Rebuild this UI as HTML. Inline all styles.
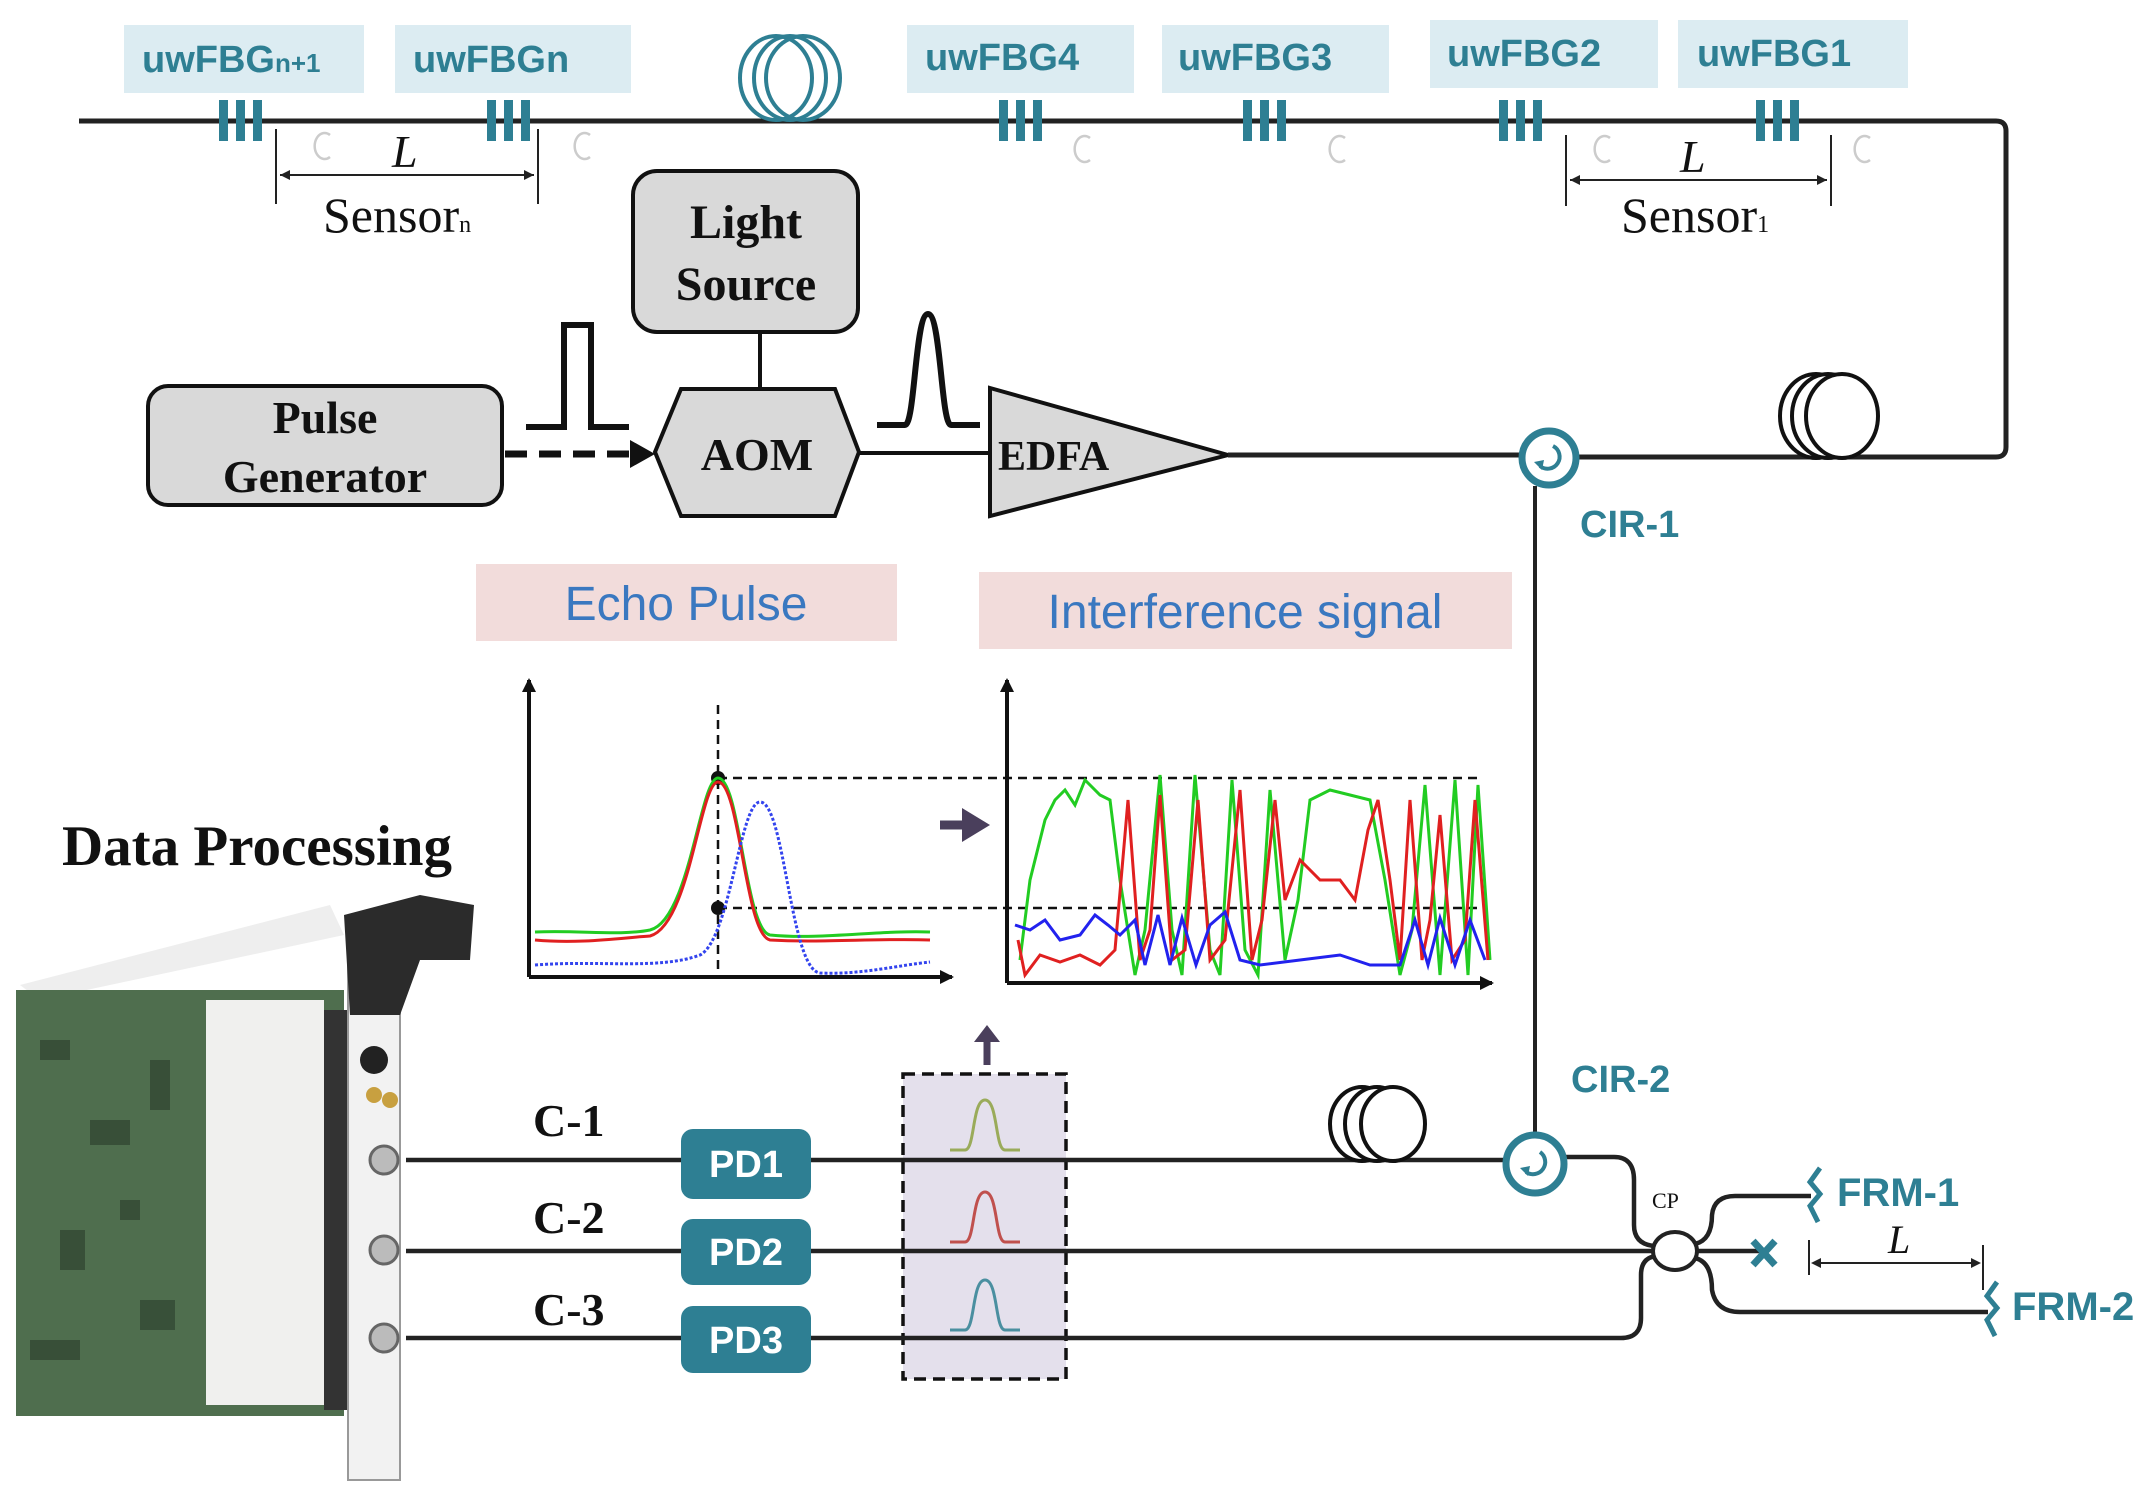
<!DOCTYPE html>
<html><head><meta charset="utf-8"><style>
html,body{margin:0;padding:0;background:#fff}
svg{display:block}
.tl{font-family:"Liberation Sans",sans-serif;font-weight:bold;fill:#2e7f93}
.sf{font-family:"Liberation Serif",serif;fill:#111}
</style></head><body>
<svg width="2156" height="1497" viewBox="0 0 2156 1497" xmlns="http://www.w3.org/2000/svg">
<defs>
<marker id="ah" markerWidth="8" markerHeight="8" refX="7" refY="4" orient="auto" markerUnits="userSpaceOnUse"><path d="M0,0 L8,4 L0,8z" fill="#111"/></marker>
<marker id="ah2" markerWidth="14" markerHeight="14" refX="12" refY="7" orient="auto" markerUnits="userSpaceOnUse"><path d="M0,0 L14,7 L0,14z" fill="#111"/></marker>
</defs>
<g fill="#dcecf2">
<rect x="124" y="25" width="240" height="68"/><rect x="395" y="25" width="236" height="68"/>
<rect x="907" y="25" width="227" height="68"/><rect x="1162" y="25" width="227" height="68"/>
<rect x="1430" y="20" width="228" height="68"/><rect x="1678" y="20" width="230" height="68"/>
</g>
<g class="tl" font-size="38">
<text x="142" y="72">uwFBG<tspan font-size="26">n+1</tspan></text>
<text x="413" y="72">uwFBGn</text>
<text x="925" y="70">uwFBG4</text>
<text x="1178" y="70">uwFBG3</text>
<text x="1447" y="66">uwFBG2</text>
<text x="1697" y="66">uwFBG1</text>
</g>
<path d="M79,121 H1996 Q2006,121 2006,131 V447 Q2006,457 1996,457 H1577" fill="none" stroke="#222" stroke-width="5"/>
<g fill="none" stroke="#2e7f93" stroke-width="4">
<ellipse cx="776" cy="78" rx="36" ry="42"/><ellipse cx="790" cy="78" rx="36" ry="42"/><ellipse cx="803" cy="78" rx="37" ry="42"/>
</g>
<g fill="#2e7f93">
<g transform="translate(241,0)"><rect x="-22" y="100" width="9" height="41"/><rect x="-5" y="100" width="9" height="41"/><rect x="12" y="100" width="9" height="41"/></g>
<g transform="translate(509,0)"><rect x="-22" y="100" width="9" height="41"/><rect x="-5" y="100" width="9" height="41"/><rect x="12" y="100" width="9" height="41"/></g>
<g transform="translate(1021,0)"><rect x="-22" y="100" width="9" height="41"/><rect x="-5" y="100" width="9" height="41"/><rect x="12" y="100" width="9" height="41"/></g>
<g transform="translate(1265,0)"><rect x="-22" y="100" width="9" height="41"/><rect x="-5" y="100" width="9" height="41"/><rect x="12" y="100" width="9" height="41"/></g>
<g transform="translate(1521,0)"><rect x="-22" y="100" width="9" height="41"/><rect x="-5" y="100" width="9" height="41"/><rect x="12" y="100" width="9" height="41"/></g>
<g transform="translate(1778,0)"><rect x="-22" y="100" width="9" height="41"/><rect x="-5" y="100" width="9" height="41"/><rect x="12" y="100" width="9" height="41"/></g>
</g>
<g fill="none" stroke="#ccc" stroke-width="2.5">
<path d="M330,135 a10,13 0 1,0 0,22"/><path d="M590,135 a10,13 0 1,0 0,22"/><path d="M1090,138 a10,13 0 1,0 0,22"/><path d="M1345,138 a10,13 0 1,0 0,22"/><path d="M1610,138 a10,13 0 1,0 0,22"/><path d="M1870,138 a10,13 0 1,0 0,22"/>
</g>
<g stroke="#222" stroke-width="2" fill="none">
<line x1="276" y1="129" x2="276" y2="204"/><line x1="538" y1="129" x2="538" y2="204"/>
<line x1="280" y1="175" x2="534" y2="175"/>
<line x1="1566" y1="135" x2="1566" y2="206"/><line x1="1831" y1="135" x2="1831" y2="206"/>
<line x1="1570" y1="180" x2="1827" y2="180"/>
</g>
<path d="M280,175 l10,-5 v10z M534,175 l-10,-5 v10z M1570,180 l10,-5 v10z M1827,180 l-10,-5 v10z" fill="#222"/>
<text class="sf" x="392" y="167" font-size="46" font-style="italic">L</text>
<text class="sf" x="1680" y="172" font-size="46" font-style="italic">L</text>
<text class="sf" x="323" y="232" font-size="50">Sensor<tspan font-size="24">n</tspan></text>
<text class="sf" x="1621" y="232" font-size="50">Sensor<tspan font-size="24">1</tspan></text>
<rect x="633" y="171" width="225" height="161" rx="24" fill="#d9d9d9" stroke="#111" stroke-width="4"/>
<text class="sf" x="746" y="238" font-size="48" font-weight="bold" text-anchor="middle">Light</text>
<text class="sf" x="746" y="300" font-size="48" font-weight="bold" text-anchor="middle">Source</text>
<line x1="760" y1="332" x2="760" y2="389" stroke="#111" stroke-width="4"/>
<rect x="148" y="386" width="354" height="119" rx="20" fill="#d9d9d9" stroke="#111" stroke-width="4"/>
<text class="sf" x="325" y="433" font-size="46" font-weight="bold" text-anchor="middle">Pulse</text>
<text class="sf" x="325" y="492" font-size="46" font-weight="bold" text-anchor="middle">Generator</text>
<line x1="505" y1="454" x2="635" y2="454" stroke="#111" stroke-width="7" stroke-dasharray="22,12"/>
<path d="M630,440 L655,454 L630,468z" fill="#111"/>
<path d="M681,389 H835 L859,452 L835,516 H681 L655,452z" fill="#d9d9d9" stroke="#111" stroke-width="4"/>
<text class="sf" x="757" y="470" font-size="46" font-weight="bold" text-anchor="middle">AOM</text>
<path d="M526,427 H564 V325 H591 V427 H629" fill="none" stroke="#111" stroke-width="6"/>
<path d="M877,425 H905 C915,425 915,314 928,314 C941,314 941,425 951,425 H980" fill="none" stroke="#111" stroke-width="6"/>
<line x1="859" y1="453" x2="990" y2="453" stroke="#111" stroke-width="4"/>
<path d="M990,388 L1228,455 L990,516z" fill="#d9d9d9" stroke="#111" stroke-width="4"/>
<text class="sf" x="998" y="470" font-size="42" font-weight="bold">EDFA</text>
<line x1="1228" y1="455" x2="1521" y2="455" stroke="#222" stroke-width="5"/>
<g fill="#fff" stroke="#111" stroke-width="4">
<ellipse cx="1816" cy="416" rx="36" ry="42"/><ellipse cx="1828" cy="416" rx="36" ry="42"/><ellipse cx="1842" cy="416" rx="36" ry="42"/>
</g>
<line x1="1535" y1="486" x2="1535" y2="1134" stroke="#222" stroke-width="4"/>
<!-- CIR-1 -->
<circle cx="1549" cy="458" r="27" fill="#fff" stroke="#2e7f93" stroke-width="7"/>
<path d="M1553,446 A12,12 0 1,1 1540,466" fill="none" stroke="#2e7f93" stroke-width="4"/>
<path d="M1534,462 l8,8 l2,-10z" fill="#2e7f93"/>
<text class="tl" x="1580" y="537" font-size="38">CIR-1</text>
<!-- dashed box -->
<rect x="903" y="1074" width="163" height="305" fill="#e4e0ec" stroke="#111" stroke-width="3.5" stroke-dasharray="12,7"/>
<g fill="none" stroke="#222" stroke-width="4.5">
<path d="M406,1160 H1505"/>
<path d="M1566,1157 H1614 Q1634,1157 1634,1180 V1225 Q1634,1244 1654,1246"/>
<path d="M406,1251 H1763"/>
<path d="M406,1338 H1621 Q1641,1338 1641,1318 V1275 Q1641,1258 1656,1256"/>
<path d="M1695,1244 Q1712,1240 1712,1215 Q1714,1196 1735,1196 H1811"/>
<path d="M1695,1258 Q1712,1262 1712,1290 Q1716,1312 1740,1312 H1988"/>
</g>
<ellipse cx="1675" cy="1251" rx="22" ry="19" fill="#fff" stroke="#222" stroke-width="4"/>
<text class="sf" x="1652" y="1208" font-size="22">CP</text>
<g stroke="#2e7f93" stroke-width="7"><line x1="1753" y1="1241" x2="1775" y2="1265"/><line x1="1775" y1="1241" x2="1753" y2="1265"/></g>
<g fill="none" stroke="#2e7f93" stroke-width="5">
<path d="M1820,1168 L1810,1182 L1820,1194 L1810,1206 L1818,1222"/>
<path d="M1997,1282 L1987,1296 L1997,1308 L1987,1320 L1995,1336"/>
</g>
<text class="tl" x="1837" y="1206" font-size="40">FRM-1</text>
<text class="tl" x="2012" y="1320" font-size="40">FRM-2</text>
<g stroke="#222" stroke-width="2"><line x1="1809" y1="1240" x2="1809" y2="1275"/><line x1="1983" y1="1245" x2="1983" y2="1290"/><line x1="1813" y1="1263" x2="1979" y2="1263"/></g>
<path d="M1811,1263 l10,-5 v10z M1981,1263 l-10,-5 v10z" fill="#222"/>
<text class="sf" x="1888" y="1253" font-size="40" font-style="italic">L</text>
<!-- CIR-2 -->
<circle cx="1535" cy="1164" r="29" fill="#fff" stroke="#2e7f93" stroke-width="7"/>
<path d="M1540,1152 A12,12 0 1,1 1526,1172" fill="none" stroke="#2e7f93" stroke-width="4"/>
<path d="M1520,1168 l8,8 l2,-10z" fill="#2e7f93"/>
<text class="tl" x="1571" y="1092" font-size="38">CIR-2</text>
<g fill="#fff" stroke="#111" stroke-width="4">
<ellipse cx="1362" cy="1124" rx="32" ry="37"/><ellipse cx="1377" cy="1124" rx="32" ry="37"/><ellipse cx="1393" cy="1124" rx="32" ry="37"/>
</g>
<path d="M987,1065 V1040" stroke="#4a3f5c" stroke-width="7"/><path d="M974,1042 L987,1025 L1000,1042z" fill="#4a3f5c"/>
<g fill="none" stroke-width="3">
<path d="M950,1150 H965 C975,1150 972,1100 985,1100 C998,1100 995,1150 1005,1150 H1020" stroke="#9aab5a"/>
<path d="M950,1242 H965 C975,1242 972,1192 985,1192 C998,1192 995,1242 1005,1242 H1020" stroke="#c0504d"/>
<path d="M950,1330 H965 C975,1330 972,1280 985,1280 C998,1280 995,1330 1005,1330 H1020" stroke="#4a8fa0"/>
</g>
<g fill="#2e7f93"><rect x="681" y="1129" width="130" height="70" rx="12"/><rect x="681" y="1219" width="130" height="66" rx="12"/><rect x="681" y="1306" width="130" height="67" rx="12"/></g>
<g font-family="Liberation Sans,sans-serif" font-weight="bold" font-size="38" fill="#fff" text-anchor="middle">
<text x="746" y="1177">PD1</text><text x="746" y="1265">PD2</text><text x="746" y="1353">PD3</text></g>
<g class="sf" font-size="46" font-weight="bold"><text x="533" y="1136">C-1</text><text x="533" y="1233">C-2</text><text x="533" y="1325">C-3</text></g>
<text class="sf" x="62" y="865" font-size="57" font-weight="bold">Data Processing</text>
<path d="M20,985 L330,905 L344,935 L40,1000z" fill="#eee"/>
<rect x="16" y="990" width="328" height="426" fill="#4f6e4e"/>
<rect x="206" y="1000" width="118" height="405" fill="#f0f0ee"/>
<g fill="#2f4330" opacity="0.7"><rect x="40" y="1040" width="30" height="20"/><rect x="90" y="1120" width="40" height="25"/><rect x="60" y="1230" width="25" height="40"/><rect x="140" y="1300" width="35" height="30"/><rect x="150" y="1060" width="20" height="50"/><rect x="30" y="1340" width="50" height="20"/><rect x="120" y="1200" width="20" height="20"/></g>
<rect x="324" y="1010" width="24" height="400" fill="#333"/>
<rect x="348" y="960" width="52" height="520" fill="#f2f2f2" stroke="#999" stroke-width="2"/>
<path d="M344,915 L420,895 L474,905 L470,960 L420,960 L400,1015 L350,1015z" fill="#2b2b2b"/>
<circle cx="374" cy="1060" r="14" fill="#222"/>
<circle cx="374" cy="1095" r="8" fill="#c8a040"/><circle cx="390" cy="1100" r="8" fill="#c8a040"/>
<g fill="#bbb" stroke="#666" stroke-width="3"><circle cx="384" cy="1160" r="14"/><circle cx="384" cy="1250" r="14"/><circle cx="384" cy="1338" r="14"/></g>
<rect x="476" y="564" width="421" height="77" fill="#f2dcdb"/>
<text x="686" y="620" font-family="Liberation Sans,sans-serif" font-size="48" fill="#3a78c0" text-anchor="middle">Echo Pulse</text>
<rect x="979" y="572" width="533" height="77" fill="#f2dcdb"/>
<text x="1245" y="628" font-family="Liberation Sans,sans-serif" font-size="48" fill="#3a78c0" text-anchor="middle">Interference signal</text>
<g stroke="#111" stroke-width="4" fill="none">
<line x1="529" y1="977" x2="529" y2="680" marker-end="url(#ah2)"/>
<line x1="529" y1="977" x2="952" y2="977" marker-end="url(#ah2)"/>
<line x1="1007" y1="983" x2="1007" y2="680" marker-end="url(#ah2)"/>
<line x1="1007" y1="983" x2="1492" y2="983" marker-end="url(#ah2)"/>
</g>
<g stroke="#111" stroke-width="2.5" stroke-dasharray="9,6" fill="none">
<line x1="718" y1="705" x2="718" y2="977"/>
<line x1="718" y1="778" x2="1478" y2="778"/>
<line x1="718" y1="908" x2="1484" y2="908"/>
</g>
<circle cx="718" cy="778" r="7" fill="#111"/><circle cx="718" cy="908" r="7" fill="#111"/>
<g fill="none" stroke-width="3">
<path d="M535,932 C580,930 620,936 650,930 C690,920 700,778 718,778 C740,778 745,930 770,935 C820,940 880,930 930,932" stroke="#22cc22"/>
<path d="M535,940 C580,944 620,938 650,936 C690,925 700,782 718,782 C740,782 745,935 770,940 C820,943 880,938 930,940" stroke="#e02020"/>
<path d="M535,965 C600,960 660,970 700,955 C730,940 740,802 760,802 C785,802 790,970 820,973 C860,975 900,965 930,962" stroke="#3344ee" stroke-dasharray="3,2"/>
</g>
<path d="M940,825 H968" stroke="#4a3f5c" stroke-width="9"/><path d="M962,808 L990,825 L962,842z" fill="#4a3f5c"/>
<g fill="none" stroke-width="3">
<polyline stroke="#22cc22" points="1020,960 1030,880 1045,820 1055,800 1065,790 1075,805 1085,780 1100,795 1110,800 1120,880 1135,975 1145,930 1160,775 1172,930 1182,975 1195,775 1210,950 1220,975 1232,780 1245,950 1258,975 1270,790 1285,960 1298,900 1310,800 1330,790 1350,795 1370,800 1385,880 1400,975 1412,930 1425,785 1440,975 1455,780 1468,975 1478,785 1490,960"/>
<polyline stroke="#e02020" points="1018,940 1025,975 1040,955 1060,962 1080,955 1100,965 1115,950 1128,800 1140,960 1150,930 1160,795 1172,960 1185,950 1198,800 1210,960 1225,940 1240,790 1252,960 1262,920 1275,800 1285,900 1300,860 1320,880 1340,880 1355,900 1368,830 1378,800 1390,880 1400,960 1410,800 1422,960 1430,920 1440,815 1452,960 1465,940 1475,800 1488,960"/>
<polyline stroke="#2222ee" points="1015,925 1030,930 1045,920 1060,940 1080,935 1095,915 1108,925 1120,935 1135,920 1145,965 1158,915 1170,965 1182,918 1196,965 1210,925 1225,912 1240,960 1260,965 1300,960 1340,955 1370,965 1400,965 1415,920 1428,965 1440,918 1455,965 1470,920 1485,960"/>
</g>
</svg>
</body></html>
